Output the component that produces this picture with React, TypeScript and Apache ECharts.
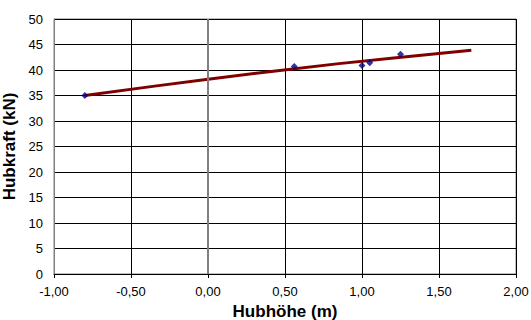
import React, { useEffect, useRef } from "react";
import * as echarts from "echarts";

const pointX = [-0.8, 0.56, 1.0, 1.05, 1.25];
const pointY = [35.0, 40.7, 40.9, 41.4, 43.1];
const trendX = [-0.8, 0.0, 0.85, 1.71];
const trendY = [35.0, 38.2, 41.25, 43.85];

const fmt = (v: number) => v.toFixed(2).replace(".", ",");

export default function App() {
  const ref = useRef<HTMLDivElement>(null);
  useEffect(() => {
    if (!ref.current) return;
    const chart = echarts.init(ref.current, undefined, { renderer: "svg" });
    chart.setOption({
      animation: false,
      backgroundColor: "#ffffff",
      grid: {
        left: 54,
        top: 19,
        right: 15,
        bottom: 46,
        containLabel: false,
        outerBoundsMode: "none",
        show: true,
        borderColor: "#808080",
        borderWidth: 1,
      },
      xAxis: {
        type: "value",
        min: -1,
        max: 2,
        interval: 0.5,
        name: "Hubhöhe (m)",
        nameLocation: "middle",
        nameGap: 23,
        nameTextStyle: {
          fontFamily: "Liberation Sans",
          fontWeight: "bold",
          fontSize: 17,
          color: "#000",
        },
        axisLine: { onZero: false, lineStyle: { color: "#000", width: 1 } },
        axisTick: { show: true, length: 4, lineStyle: { color: "#000" } },
        axisLabel: {
          formatter: (v: number) => fmt(v),
          fontFamily: "Liberation Sans",
          fontSize: 13,
          color: "#000",
          margin: 11,
        },
        splitLine: { show: true, lineStyle: { color: "#000", width: 1 } },
      },
      yAxis: {
        type: "value",
        min: 0,
        max: 50,
        interval: 5,
        name: "Hubkraft (kN)",
        nameLocation: "middle",
        nameRotate: 90,
        nameGap: 27,
        nameTextStyle: {
          fontFamily: "Liberation Sans",
          fontWeight: "bold",
          fontSize: 17,
          color: "#000",
        },
        axisLine: { show: true, onZero: false, lineStyle: { color: "#808080", width: 1 } },
        axisTick: { show: false },
        axisLabel: {
          fontFamily: "Liberation Sans",
          fontSize: 13,
          color: "#000",
          margin: 11,
        },
        splitLine: { show: true, lineStyle: { color: "#000", width: 1 } },
      },
      series: [
        {
          type: "line",
          data: trendX.map((x, i) => [x, trendY[i]]),
          smooth: 0.3,
          symbol: "none",
          lineStyle: { color: "#800000", width: 3 },
          z: 3,
          markLine: {
            silent: true,
            symbol: "none",
            label: { show: false },
            lineStyle: { color: "#808080", width: 2, type: "solid" },
            data: [{ xAxis: 0 }],
          },
        },
        {
          type: "scatter",
          data: pointX.map((x, i) => [x, pointY[i]]),
          symbol: "diamond",
          symbolSize: 7,
          itemStyle: { color: "#000080" },
          z: 4,
        },
      ],
    });
    return () => chart.dispose();
  }, []);
  return (
    <div
      ref={ref}
      style={{ position: "absolute", left: 0, top: 0, width: 531, height: 320 }}
    />
  );
}
